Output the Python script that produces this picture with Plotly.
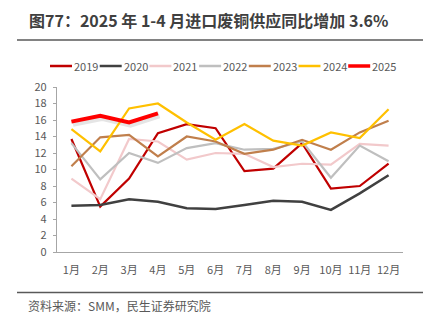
import plotly.graph_objects as go

# Monthly imported scrap copper supply (10k tonnes), by year
months = list(range(1, 13))
month_labels = ["1月", "2月", "3月", "4月", "5月", "6月", "7月", "8月", "9月", "10月", "11月", "12月"]

s2019 = [13.7, 5.5, 8.9, 14.4, 15.5, 15.0, 9.8, 10.1, 13.2, 7.7, 8.0, 10.7]
s2020 = [5.6, 5.7, 6.4, 6.1, 5.3, 5.2, 5.7, 6.2, 6.1, 5.1, 7.1, 9.3]
s2021 = [8.9, 6.4, 13.7, 13.4, 11.2, 12.0, 11.9, 10.3, 10.7, 10.6, 13.1, 12.9]
s2022 = [13.2, 8.8, 12.0, 10.8, 12.6, 13.2, 12.4, 12.5, 13.4, 9.0, 12.9, 11.0]
s2023 = [10.4, 13.9, 14.2, 11.6, 14.0, 13.4, 11.9, 12.4, 13.6, 12.4, 14.5, 15.9]
s2024 = [14.9, 12.2, 17.4, 18.0, 15.7, 13.6, 15.5, 13.5, 12.9, 14.5, 13.8, 17.3]
s2025 = [15.8, 16.5, 15.7, 16.8]

series_names = ["2019", "2020", "2021", "2022", "2023", "2024", "2025"]
series_data = [s2019, s2020, s2021, s2022, s2023, s2024, s2025]
series_colors = ["#C00000", "#404040", "#F2C9CB", "#BFBFBF", "#C07F4C", "#FFC000", "#FF0000"]
series_widths = [2.2, 2.5, 2.2, 2.2, 2.2, 2.2, 4]

title_text = "图77：2025 年 1-4 月进口废铜供应同比增加 3.6%"
source_text = "资料来源：SMM，民生证券研究院"

FONT = "Noto Sans CJK SC, Microsoft YaHei, sans-serif"
W, H = 429, 329

fig = go.Figure()

# soft drop shadow under the current-year line
fig.add_trace(go.Scatter(
    x=[m + 0.05 for m in months[:len(s2025)]],
    y=[v - 0.25 for v in s2025],
    mode="lines",
    line=dict(color="rgba(0,0,0,0.10)", width=6),
    hoverinfo="skip", showlegend=False,
))

for name, vals, col, w in zip(series_names, series_data, series_colors, series_widths):
    fig.add_trace(go.Scatter(
        x=months[:len(vals)], y=vals, mode="lines", name=name,
        line=dict(color=col, width=w), showlegend=False,
    ))

shapes = []
annotations = []

pw = W - 57 - 26
ph = H - 87 - 77

# header / footer rules
shapes.append(dict(type="line", xref="paper", yref="paper",
                   x0=(17 - 57) / pw, x1=(423 - 57) / pw,
                   y0=1 + (87 - 40) / ph, y1=1 + (87 - 40) / ph,
                   line=dict(color="#595959", width=1.3)))
shapes.append(dict(type="line", xref="paper", yref="paper",
                   x0=(17 - 57) / pw, x1=(423 - 57) / pw,
                   y0=-(292.5 - 252) / ph, y1=-(292.5 - 252) / ph,
                   line=dict(color="#595959", width=1.3)))

annotations.append(dict(text="<b>" + title_text + "</b>", xref="paper", yref="paper",
                        x=(27 - 57) / pw, xanchor="left",
                        y=1 + (87 - 20) / ph, yanchor="middle",
                        showarrow=False, font=dict(family=FONT, size=16, color="#404040")))
annotations.append(dict(text=source_text, xref="paper", yref="paper",
                        x=(26 - 57) / pw, xanchor="left",
                        y=-(305 - 252) / ph, yanchor="middle",
                        showarrow=False, font=dict(family=FONT, size=12, color="#595959")))

# legend row drawn as line swatches + labels
leg_y = 1 + (87 - 66) / ph
for i, (name, col, w) in enumerate(zip(series_names, series_colors, series_widths)):
    x0 = 50 + i * 49.7
    shapes.append(dict(type="line", xref="paper", yref="paper",
                       x0=(x0 - 57) / pw, x1=(x0 + 22 - 57) / pw,
                       y0=leg_y, y1=leg_y,
                       line=dict(color=col, width=2.5 if w < 3 else 3.5)))
    annotations.append(dict(text=name, xref="paper", yref="paper",
                            x=(x0 + 22 - 57) / pw, xanchor="left",
                            y=leg_y, yanchor="middle", showarrow=False,
                            font=dict(family=FONT, size=11, color="#595959")))

fig.update_layout(
    width=W, height=H,
    margin=dict(l=57, r=26, t=87, b=77),
    paper_bgcolor="white", plot_bgcolor="white",
    font=dict(family=FONT, size=11, color="#595959"),
    showlegend=False,
    shapes=shapes, annotations=annotations,
    xaxis=dict(
        range=[0.5, 12.5], tickvals=months, ticktext=month_labels,
        showgrid=False, zeroline=False, showline=True, linecolor="#A6A6A6", linewidth=1.2,
        ticks="", ticklabelstandoff=8,
        tickfont=dict(family=FONT, size=11, color="#595959"),
        fixedrange=True,
    ),
    yaxis=dict(
        range=[0, 20], dtick=2, tick0=0,
        showgrid=False, zeroline=False, showline=True, linecolor="#A6A6A6", linewidth=1.2,
        ticks="outside", ticklen=3, tickcolor="#A6A6A6", ticklabelstandoff=4,
        tickfont=dict(family=FONT, size=11, color="#595959"),
        fixedrange=True,
    ),
)

fig.write_html("out.html", config={"displayModeBar": False})
